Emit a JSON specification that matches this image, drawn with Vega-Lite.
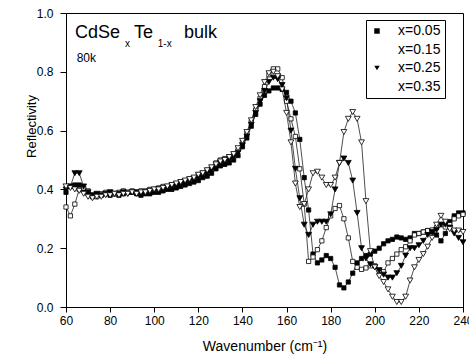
{
 "$schema": "https://vega.github.io/schema/vega-lite/v6.json",
 "width": 397, "height": 294,
 "autosize": {"type": "none"},
 "padding": {"left": 66, "top": 13, "right": 6, "bottom": 53},
 "background": "white",
 "config": {
  "view": {"stroke": "black", "strokeWidth": 1},
  "font": "Liberation Sans",
  "axis": {"domainColor": "black", "tickColor": "black", "labelColor": "black", "titleColor": "black", "grid": false, "labelFont": "Liberation Sans", "titleFont": "Liberation Sans", "labelFontSize": 12, "titleFontWeight": "normal", "titleFontSize": 13},
  "legend": {"strokeColor": "black", "padding": 4, "labelFontSize": 14, "labelFont": "Liberation Sans", "labelColor": "black", "symbolSize": 30, "labelOffset": 14, "rowPadding": 4.5, "symbolStrokeColor": "black", "symbolStrokeWidth": 1, "symbolOpacity": 1, "fillColor": "white"}
 },
 "datasets": {
  "d": [
{"s":"x=0.05","x":60,"y":0.39},{"s":"x=0.05","x":62,"y":0.41},{"s":"x=0.05","x":64,"y":0.415},{"s":"x=0.05","x":66,"y":0.415},{"s":"x=0.05","x":68,"y":0.40},{"s":"x=0.05","x":70,"y":0.385},{"s":"x=0.05","x":72,"y":0.375},{"s":"x=0.05","x":74,"y":0.38},{"s":"x=0.05","x":76,"y":0.38},{"s":"x=0.05","x":78,"y":0.385},{"s":"x=0.05","x":80,"y":0.38},{"s":"x=0.05","x":82,"y":0.385},{"s":"x=0.05","x":84,"y":0.38},{"s":"x=0.05","x":86,"y":0.385},{"s":"x=0.05","x":88,"y":0.39},{"s":"x=0.05","x":90,"y":0.39},{"s":"x=0.05","x":92,"y":0.385},{"s":"x=0.05","x":94,"y":0.38},{"s":"x=0.05","x":96,"y":0.385},{"s":"x=0.05","x":98,"y":0.385},{"s":"x=0.05","x":100,"y":0.39},{"s":"x=0.05","x":102,"y":0.39},{"s":"x=0.05","x":104,"y":0.395},{"s":"x=0.05","x":106,"y":0.40},{"s":"x=0.05","x":108,"y":0.40},{"s":"x=0.05","x":110,"y":0.405},{"s":"x=0.05","x":112,"y":0.41},{"s":"x=0.05","x":114,"y":0.415},{"s":"x=0.05","x":116,"y":0.42},{"s":"x=0.05","x":118,"y":0.425},{"s":"x=0.05","x":120,"y":0.43},{"s":"x=0.05","x":122,"y":0.44},{"s":"x=0.05","x":124,"y":0.445},{"s":"x=0.05","x":126,"y":0.455},{"s":"x=0.05","x":128,"y":0.47},{"s":"x=0.05","x":130,"y":0.48},{"s":"x=0.05","x":132,"y":0.485},{"s":"x=0.05","x":134,"y":0.49},{"s":"x=0.05","x":136,"y":0.50},{"s":"x=0.05","x":138,"y":0.515},{"s":"x=0.05","x":140,"y":0.545},{"s":"x=0.05","x":142,"y":0.575},{"s":"x=0.05","x":144,"y":0.615},{"s":"x=0.05","x":146,"y":0.655},{"s":"x=0.05","x":148,"y":0.69},{"s":"x=0.05","x":150,"y":0.72},{"s":"x=0.05","x":152,"y":0.735},{"s":"x=0.05","x":154,"y":0.745},{"s":"x=0.05","x":156,"y":0.745},{"s":"x=0.05","x":158,"y":0.74},{"s":"x=0.05","x":160,"y":0.73},{"s":"x=0.05","x":162,"y":0.70},{"s":"x=0.05","x":164,"y":0.66},{"s":"x=0.05","x":166,"y":0.57},{"s":"x=0.05","x":168,"y":0.44},{"s":"x=0.05","x":170,"y":0.33},{"s":"x=0.05","x":172,"y":0.18},{"s":"x=0.05","x":174,"y":0.15},{"s":"x=0.05","x":176,"y":0.16},{"s":"x=0.05","x":178,"y":0.175},{"s":"x=0.05","x":180,"y":0.165},{"s":"x=0.05","x":182,"y":0.135},{"s":"x=0.05","x":184,"y":0.075},{"s":"x=0.05","x":186,"y":0.065},{"s":"x=0.05","x":188,"y":0.085},{"s":"x=0.05","x":190,"y":0.115},{"s":"x=0.05","x":192,"y":0.15},{"s":"x=0.05","x":194,"y":0.165},{"s":"x=0.05","x":196,"y":0.175},{"s":"x=0.05","x":198,"y":0.18},{"s":"x=0.05","x":200,"y":0.19},{"s":"x=0.05","x":202,"y":0.20},{"s":"x=0.05","x":204,"y":0.215},{"s":"x=0.05","x":206,"y":0.225},{"s":"x=0.05","x":208,"y":0.23},{"s":"x=0.05","x":210,"y":0.238},{"s":"x=0.05","x":212,"y":0.235},{"s":"x=0.05","x":214,"y":0.23},{"s":"x=0.05","x":216,"y":0.235},{"s":"x=0.05","x":218,"y":0.25},{"s":"x=0.05","x":220,"y":0.25},{"s":"x=0.05","x":222,"y":0.255},{"s":"x=0.05","x":224,"y":0.26},{"s":"x=0.05","x":226,"y":0.255},{"s":"x=0.05","x":228,"y":0.245},{"s":"x=0.05","x":230,"y":0.225},{"s":"x=0.05","x":232,"y":0.25},{"s":"x=0.05","x":234,"y":0.29},{"s":"x=0.05","x":236,"y":0.31},{"s":"x=0.05","x":238,"y":0.32},{"s":"x=0.05","x":240,"y":0.32},
{"s":"x=0.15","x":60,"y":0.34},{"s":"x=0.15","x":62,"y":0.31},{"s":"x=0.15","x":64,"y":0.35},{"s":"x=0.15","x":66,"y":0.40},{"s":"x=0.15","x":68,"y":0.405},{"s":"x=0.15","x":70,"y":0.395},{"s":"x=0.15","x":72,"y":0.38},{"s":"x=0.15","x":74,"y":0.375},{"s":"x=0.15","x":76,"y":0.385},{"s":"x=0.15","x":78,"y":0.39},{"s":"x=0.15","x":80,"y":0.39},{"s":"x=0.15","x":82,"y":0.385},{"s":"x=0.15","x":84,"y":0.39},{"s":"x=0.15","x":86,"y":0.395},{"s":"x=0.15","x":88,"y":0.39},{"s":"x=0.15","x":90,"y":0.395},{"s":"x=0.15","x":92,"y":0.39},{"s":"x=0.15","x":94,"y":0.395},{"s":"x=0.15","x":96,"y":0.395},{"s":"x=0.15","x":98,"y":0.40},{"s":"x=0.15","x":100,"y":0.40},{"s":"x=0.15","x":102,"y":0.405},{"s":"x=0.15","x":104,"y":0.41},{"s":"x=0.15","x":106,"y":0.41},{"s":"x=0.15","x":108,"y":0.415},{"s":"x=0.15","x":110,"y":0.42},{"s":"x=0.15","x":112,"y":0.425},{"s":"x=0.15","x":114,"y":0.43},{"s":"x=0.15","x":116,"y":0.435},{"s":"x=0.15","x":118,"y":0.44},{"s":"x=0.15","x":120,"y":0.45},{"s":"x=0.15","x":122,"y":0.455},{"s":"x=0.15","x":124,"y":0.465},{"s":"x=0.15","x":126,"y":0.475},{"s":"x=0.15","x":128,"y":0.49},{"s":"x=0.15","x":130,"y":0.50},{"s":"x=0.15","x":132,"y":0.505},{"s":"x=0.15","x":134,"y":0.51},{"s":"x=0.15","x":136,"y":0.52},{"s":"x=0.15","x":138,"y":0.535},{"s":"x=0.15","x":140,"y":0.56},{"s":"x=0.15","x":142,"y":0.59},{"s":"x=0.15","x":144,"y":0.63},{"s":"x=0.15","x":146,"y":0.67},{"s":"x=0.15","x":148,"y":0.71},{"s":"x=0.15","x":150,"y":0.75},{"s":"x=0.15","x":152,"y":0.79},{"s":"x=0.15","x":154,"y":0.81},{"s":"x=0.15","x":156,"y":0.81},{"s":"x=0.15","x":158,"y":0.78},{"s":"x=0.15","x":160,"y":0.70},{"s":"x=0.15","x":162,"y":0.64},{"s":"x=0.15","x":164,"y":0.58},{"s":"x=0.15","x":166,"y":0.47},{"s":"x=0.15","x":168,"y":0.35},{"s":"x=0.15","x":170,"y":0.155},{"s":"x=0.15","x":172,"y":0.17},{"s":"x=0.15","x":174,"y":0.195},{"s":"x=0.15","x":176,"y":0.225},{"s":"x=0.15","x":178,"y":0.27},{"s":"x=0.15","x":180,"y":0.31},{"s":"x=0.15","x":182,"y":0.335},{"s":"x=0.15","x":184,"y":0.345},{"s":"x=0.15","x":186,"y":0.30},{"s":"x=0.15","x":188,"y":0.235},{"s":"x=0.15","x":190,"y":0.155},{"s":"x=0.15","x":192,"y":0.135},{"s":"x=0.15","x":194,"y":0.128},{"s":"x=0.15","x":196,"y":0.133},{"s":"x=0.15","x":198,"y":0.14},{"s":"x=0.15","x":200,"y":0.14},{"s":"x=0.15","x":202,"y":0.125},{"s":"x=0.15","x":204,"y":0.12},{"s":"x=0.15","x":206,"y":0.15},{"s":"x=0.15","x":208,"y":0.165},{"s":"x=0.15","x":210,"y":0.18},{"s":"x=0.15","x":212,"y":0.195},{"s":"x=0.15","x":214,"y":0.205},{"s":"x=0.15","x":216,"y":0.225},{"s":"x=0.15","x":218,"y":0.245},{"s":"x=0.15","x":220,"y":0.25},{"s":"x=0.15","x":222,"y":0.255},{"s":"x=0.15","x":224,"y":0.26},{"s":"x=0.15","x":226,"y":0.262},{"s":"x=0.15","x":228,"y":0.27},{"s":"x=0.15","x":230,"y":0.28},{"s":"x=0.15","x":232,"y":0.272},{"s":"x=0.15","x":234,"y":0.28},{"s":"x=0.15","x":236,"y":0.30},{"s":"x=0.15","x":238,"y":0.31},{"s":"x=0.15","x":240,"y":0.315},
{"s":"x=0.25","x":60,"y":0.40},{"s":"x=0.25","x":62,"y":0.41},{"s":"x=0.25","x":64,"y":0.455},{"s":"x=0.25","x":66,"y":0.455},{"s":"x=0.25","x":68,"y":0.41},{"s":"x=0.25","x":70,"y":0.39},{"s":"x=0.25","x":72,"y":0.38},{"s":"x=0.25","x":74,"y":0.385},{"s":"x=0.25","x":76,"y":0.38},{"s":"x=0.25","x":78,"y":0.385},{"s":"x=0.25","x":80,"y":0.39},{"s":"x=0.25","x":82,"y":0.385},{"s":"x=0.25","x":84,"y":0.385},{"s":"x=0.25","x":86,"y":0.39},{"s":"x=0.25","x":88,"y":0.385},{"s":"x=0.25","x":90,"y":0.39},{"s":"x=0.25","x":92,"y":0.39},{"s":"x=0.25","x":94,"y":0.385},{"s":"x=0.25","x":96,"y":0.39},{"s":"x=0.25","x":98,"y":0.395},{"s":"x=0.25","x":100,"y":0.395},{"s":"x=0.25","x":102,"y":0.40},{"s":"x=0.25","x":104,"y":0.40},{"s":"x=0.25","x":106,"y":0.405},{"s":"x=0.25","x":108,"y":0.41},{"s":"x=0.25","x":110,"y":0.41},{"s":"x=0.25","x":112,"y":0.415},{"s":"x=0.25","x":114,"y":0.42},{"s":"x=0.25","x":116,"y":0.43},{"s":"x=0.25","x":118,"y":0.435},{"s":"x=0.25","x":120,"y":0.44},{"s":"x=0.25","x":122,"y":0.45},{"s":"x=0.25","x":124,"y":0.455},{"s":"x=0.25","x":126,"y":0.465},{"s":"x=0.25","x":128,"y":0.475},{"s":"x=0.25","x":130,"y":0.49},{"s":"x=0.25","x":132,"y":0.495},{"s":"x=0.25","x":134,"y":0.50},{"s":"x=0.25","x":136,"y":0.51},{"s":"x=0.25","x":138,"y":0.525},{"s":"x=0.25","x":140,"y":0.55},{"s":"x=0.25","x":142,"y":0.58},{"s":"x=0.25","x":144,"y":0.62},{"s":"x=0.25","x":146,"y":0.66},{"s":"x=0.25","x":148,"y":0.70},{"s":"x=0.25","x":150,"y":0.735},{"s":"x=0.25","x":152,"y":0.765},{"s":"x=0.25","x":154,"y":0.78},{"s":"x=0.25","x":156,"y":0.775},{"s":"x=0.25","x":158,"y":0.755},{"s":"x=0.25","x":160,"y":0.71},{"s":"x=0.25","x":162,"y":0.60},{"s":"x=0.25","x":164,"y":0.47},{"s":"x=0.25","x":166,"y":0.37},{"s":"x=0.25","x":168,"y":0.28},{"s":"x=0.25","x":170,"y":0.245},{"s":"x=0.25","x":172,"y":0.28},{"s":"x=0.25","x":174,"y":0.29},{"s":"x=0.25","x":176,"y":0.29},{"s":"x=0.25","x":178,"y":0.29},{"s":"x=0.25","x":180,"y":0.315},{"s":"x=0.25","x":182,"y":0.40},{"s":"x=0.25","x":184,"y":0.49},{"s":"x=0.25","x":186,"y":0.505},{"s":"x=0.25","x":188,"y":0.49},{"s":"x=0.25","x":190,"y":0.43},{"s":"x=0.25","x":192,"y":0.32},{"s":"x=0.25","x":194,"y":0.20},{"s":"x=0.25","x":196,"y":0.165},{"s":"x=0.25","x":198,"y":0.145},{"s":"x=0.25","x":200,"y":0.135},{"s":"x=0.25","x":202,"y":0.125},{"s":"x=0.25","x":204,"y":0.11},{"s":"x=0.25","x":206,"y":0.10},{"s":"x=0.25","x":208,"y":0.10},{"s":"x=0.25","x":210,"y":0.115},{"s":"x=0.25","x":212,"y":0.14},{"s":"x=0.25","x":214,"y":0.175},{"s":"x=0.25","x":216,"y":0.20},{"s":"x=0.25","x":218,"y":0.20},{"s":"x=0.25","x":220,"y":0.21},{"s":"x=0.25","x":222,"y":0.225},{"s":"x=0.25","x":224,"y":0.245},{"s":"x=0.25","x":226,"y":0.255},{"s":"x=0.25","x":228,"y":0.262},{"s":"x=0.25","x":230,"y":0.28},{"s":"x=0.25","x":232,"y":0.28},{"s":"x=0.25","x":234,"y":0.27},{"s":"x=0.25","x":236,"y":0.25},{"s":"x=0.25","x":238,"y":0.235},{"s":"x=0.25","x":240,"y":0.22},
{"s":"x=0.35","x":60,"y":0.41},{"s":"x=0.35","x":62,"y":0.405},{"s":"x=0.35","x":64,"y":0.40},{"s":"x=0.35","x":66,"y":0.395},{"s":"x=0.35","x":68,"y":0.385},{"s":"x=0.35","x":70,"y":0.375},{"s":"x=0.35","x":72,"y":0.37},{"s":"x=0.35","x":74,"y":0.375},{"s":"x=0.35","x":76,"y":0.375},{"s":"x=0.35","x":78,"y":0.38},{"s":"x=0.35","x":80,"y":0.38},{"s":"x=0.35","x":82,"y":0.385},{"s":"x=0.35","x":84,"y":0.38},{"s":"x=0.35","x":86,"y":0.385},{"s":"x=0.35","x":88,"y":0.385},{"s":"x=0.35","x":90,"y":0.39},{"s":"x=0.35","x":92,"y":0.385},{"s":"x=0.35","x":94,"y":0.39},{"s":"x=0.35","x":96,"y":0.39},{"s":"x=0.35","x":98,"y":0.395},{"s":"x=0.35","x":100,"y":0.40},{"s":"x=0.35","x":102,"y":0.40},{"s":"x=0.35","x":104,"y":0.405},{"s":"x=0.35","x":106,"y":0.41},{"s":"x=0.35","x":108,"y":0.415},{"s":"x=0.35","x":110,"y":0.42},{"s":"x=0.35","x":112,"y":0.425},{"s":"x=0.35","x":114,"y":0.43},{"s":"x=0.35","x":116,"y":0.435},{"s":"x=0.35","x":118,"y":0.44},{"s":"x=0.35","x":120,"y":0.45},{"s":"x=0.35","x":122,"y":0.455},{"s":"x=0.35","x":124,"y":0.465},{"s":"x=0.35","x":126,"y":0.475},{"s":"x=0.35","x":128,"y":0.485},{"s":"x=0.35","x":130,"y":0.495},{"s":"x=0.35","x":132,"y":0.50},{"s":"x=0.35","x":134,"y":0.51},{"s":"x=0.35","x":136,"y":0.52},{"s":"x=0.35","x":138,"y":0.54},{"s":"x=0.35","x":140,"y":0.565},{"s":"x=0.35","x":142,"y":0.595},{"s":"x=0.35","x":144,"y":0.635},{"s":"x=0.35","x":146,"y":0.68},{"s":"x=0.35","x":148,"y":0.72},{"s":"x=0.35","x":150,"y":0.765},{"s":"x=0.35","x":152,"y":0.795},{"s":"x=0.35","x":154,"y":0.80},{"s":"x=0.35","x":156,"y":0.785},{"s":"x=0.35","x":158,"y":0.74},{"s":"x=0.35","x":160,"y":0.66},{"s":"x=0.35","x":162,"y":0.56},{"s":"x=0.35","x":164,"y":0.42},{"s":"x=0.35","x":166,"y":0.34},{"s":"x=0.35","x":168,"y":0.35},{"s":"x=0.35","x":170,"y":0.40},{"s":"x=0.35","x":172,"y":0.455},{"s":"x=0.35","x":174,"y":0.46},{"s":"x=0.35","x":176,"y":0.44},{"s":"x=0.35","x":178,"y":0.415},{"s":"x=0.35","x":180,"y":0.415},{"s":"x=0.35","x":182,"y":0.44},{"s":"x=0.35","x":184,"y":0.49},{"s":"x=0.35","x":186,"y":0.595},{"s":"x=0.35","x":188,"y":0.64},{"s":"x=0.35","x":190,"y":0.663},{"s":"x=0.35","x":192,"y":0.64},{"s":"x=0.35","x":194,"y":0.56},{"s":"x=0.35","x":196,"y":0.36},{"s":"x=0.35","x":198,"y":0.19},{"s":"x=0.35","x":200,"y":0.135},{"s":"x=0.35","x":202,"y":0.105},{"s":"x=0.35","x":204,"y":0.085},{"s":"x=0.35","x":206,"y":0.06},{"s":"x=0.35","x":208,"y":0.035},{"s":"x=0.35","x":210,"y":0.017},{"s":"x=0.35","x":212,"y":0.017},{"s":"x=0.35","x":214,"y":0.035},{"s":"x=0.35","x":216,"y":0.09},{"s":"x=0.35","x":218,"y":0.135},{"s":"x=0.35","x":220,"y":0.16},{"s":"x=0.35","x":222,"y":0.18},{"s":"x=0.35","x":224,"y":0.205},{"s":"x=0.35","x":226,"y":0.235},{"s":"x=0.35","x":228,"y":0.28},{"s":"x=0.35","x":230,"y":0.31},{"s":"x=0.35","x":232,"y":0.29},{"s":"x=0.35","x":234,"y":0.265},{"s":"x=0.35","x":236,"y":0.26},{"s":"x=0.35","x":238,"y":0.26},{"s":"x=0.35","x":240,"y":0.255}
  ]
 },
 "layer": [
  {
   "data": {"name": "d"},
   "mark": {"type": "line", "stroke": "#222", "strokeWidth": 0.8},
   "encoding": {
    "x": {"field": "x", "type": "quantitative", "scale": {"domain": [60, 240], "nice": false},
     "axis": {"values": [60,70,80,90,100,110,120,130,140,150,160,170,180,190,200,210,220,230,240],
      "labelExpr": "datum.value % 20 === 0 ? datum.label : ''",
      "tickSize": {"condition": {"test": "datum.value % 20 === 0", "value": 5}, "value": 3},
      "labelPadding": 3, "labelFlush": false, "labelOverlap": false,
      "title": "Wavenumber (cm⁻¹)", "titleFontSize": 14, "titleY": 43, "titleBaseline": "alphabetic"}},
    "y": {"field": "y", "type": "quantitative", "scale": {"domain": [0, 1], "nice": false},
     "axis": {"values": [0,0.1,0.2,0.3,0.4,0.5,0.6,0.7,0.8,0.9,1.0], "format": ".1f",
      "labelExpr": "round(datum.value*10) % 2 === 0 ? datum.label : ''",
      "tickSize": {"condition": {"test": "round(datum.value*10) % 2 === 0", "value": 6}, "value": 3},
      "labelPadding": 7, "labelFlush": false, "labelOverlap": false,
      "title": "Reflectivity", "titleX": -31, "titleY": 113, "titleBaseline": "alphabetic"}},
    "detail": {"field": "s"}
   }
  },
  {
   "data": {"name": "d"},
   "mark": {"type": "point", "stroke": "black", "strokeWidth": 0.8, "opacity": 1},
   "encoding": {
    "x": {"field": "x", "type": "quantitative"},
    "y": {"field": "y", "type": "quantitative"},
    "shape": {"field": "s", "type": "nominal",
     "scale": {"domain": ["x=0.05","x=0.15","x=0.25","x=0.35"], "range": ["square","square","triangle-down","triangle-down"]},
     "legend": {"orient": "none", "legendX": 300, "legendY": 7, "title": null,
      "encode": {"symbols": {
        "stroke": {"value": "black"}, "strokeWidth": {"value": 1}}}}},
    "fill": {"field": "s", "type": "nominal",
     "scale": {"domain": ["x=0.05","x=0.15","x=0.25","x=0.35"], "range": ["black","white","black","white"]},
     "legend": {"orient": "none", "legendX": 300, "legendY": 7, "title": null}},
    "size": {"field": "s", "type": "nominal",
     "scale": {"type": "ordinal", "domain": ["x=0.35","x=0.25","x=0.15","x=0.05"], "range": [34,34,18,18]}, "legend": null}
   }
  },
  {"data": {"values": [{"t": "CdSe"}]}, "mark": {"type": "text", "align": "left", "baseline": "alphabetic", "fontSize": 18, "font": "Liberation Sans", "color": "black"},
   "encoding": {"text": {"field": "t"}, "x": {"datum": 64.1}, "y": {"datum": 0.915}}},
  {"data": {"values": [{"t": "x"}]}, "mark": {"type": "text", "align": "left", "baseline": "alphabetic", "fontSize": 10, "font": "Liberation Sans", "color": "black"},
   "encoding": {"text": {"field": "t"}, "x": {"datum": 86.8}, "y": {"datum": 0.883}}},
  {"data": {"values": [{"t": "Te"}]}, "mark": {"type": "text", "align": "left", "baseline": "alphabetic", "fontSize": 18, "font": "Liberation Sans", "color": "black"},
   "encoding": {"text": {"field": "t"}, "x": {"datum": 90.8}, "y": {"datum": 0.915}}},
  {"data": {"values": [{"t": "1-x"}]}, "mark": {"type": "text", "align": "left", "baseline": "alphabetic", "fontSize": 10, "font": "Liberation Sans", "color": "black"},
   "encoding": {"text": {"field": "t"}, "x": {"datum": 101.6}, "y": {"datum": 0.883}}},
  {"data": {"values": [{"t": "bulk"}]}, "mark": {"type": "text", "align": "left", "baseline": "alphabetic", "fontSize": 18, "font": "Liberation Sans", "color": "black"},
   "encoding": {"text": {"field": "t"}, "x": {"datum": 113.5}, "y": {"datum": 0.915}}},
  {"data": {"values": [{"t": "80k"}]}, "mark": {"type": "text", "align": "left", "baseline": "alphabetic", "fontSize": 12, "font": "Liberation Sans", "color": "black"},
   "encoding": {"text": {"field": "t"}, "x": {"datum": 64.85}, "y": {"datum": 0.832}}}
 ]
}
